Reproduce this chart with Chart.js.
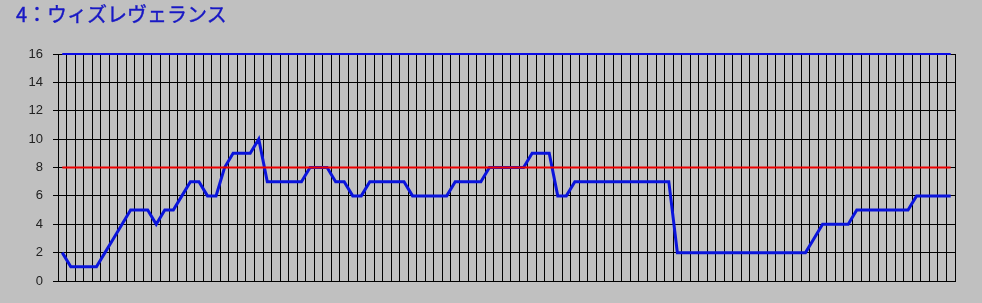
<!DOCTYPE html>
<html>
<head>
<meta charset="utf-8">
<script src="https://cdn.jsdelivr.net/npm/chart.js@4.4.1/dist/chart.umd.min.js"></script>
<style>
  html, body { margin: 0; padding: 0; background: #c0c0c0; }
  #wrap { position: relative; width: 982px; height: 303px; }
  #title {
    position: absolute; left: 16px; top: 4px;
    font-family: "Noto Sans CJK JP", sans-serif; font-size: 20px; line-height: 1;
    color: #1818c4;
    -webkit-text-stroke: 0.4px #1818c4;
  }
  canvas { position: absolute; left: 0; top: 0; }
</style>
</head>
<body>
<div id="wrap">
  <canvas id="chart" width="982" height="303"></canvas>
  <div id="title">4：ウィズレヴェランス</div>
</div>
<script>
// 読み取った値 (105点)
const wizValues = [
  2, 1, 1, 1, 1, 2, 3, 4, 5, 5,
  5, 4, 5, 5, 6, 7, 7, 6, 6, 8,
  9, 9, 9, 10, 7, 7, 7, 7, 7, 8,
  8, 8, 7, 7, 6, 6, 7, 7, 7, 7,
  7, 6, 6, 6, 6, 6, 7, 7, 7, 7,
  8, 8, 8, 8, 8, 9, 9, 9, 6, 6,
  7, 7, 7, 7, 7, 7, 7, 7, 7, 7,
  7, 7, 2, 2, 2, 2, 2, 2, 2, 2,
  2, 2, 2, 2, 2, 2, 2, 2, 3, 4,
  4, 4, 4, 5, 5, 5, 5, 5, 5, 5,
  6, 6, 6, 6, 6
];
const categories = wizValues.map((_, i) => String(i + 1));
const warnLevel = 8;   // 赤線
const maxLevel = 16;   // 上限 (青線)
const yTickValues = [0, 2, 4, 6, 8, 10, 12, 14, 16];

const ctx = document.getElementById("chart").getContext("2d");

const chart = new Chart(ctx, {
    type: "line",
    data: {
        labels: categories,
        datasets: [
            {
                data: categories.map(() => maxLevel),
                borderColor: "#0a0ae6",
                borderWidth: 2,
                pointRadius: 0,
                tension: 0,
                clip: false
            },
            {
                data: categories.map(() => warnLevel),
                borderColor: "#ee0000",
                borderWidth: 2,
                pointRadius: 0,
                tension: 0
            },
            {
                data: wizValues,
                borderColor: "#0a14dc",
                borderWidth: 3,
                pointRadius: 0,
                tension: 0
            }
        ]
    },
    options: {
        responsive: false,
        animation: false,
        events: [],
        layout: { padding: { top: 54, right: 27, bottom: 22, left: 0 } },
        plugins: { legend: { display: false }, tooltip: { enabled: false }, title: { display: false } },
        scales: {
            x: {
                offset: true,
                grid: { offset: true, color: "#000", lineWidth: 1, drawTicks: false },
                border: { color: "#000" },
                ticks: { display: false },
                afterFit: (s) => { s.height = 0; }
            },
            y: {
                min: 0,
                max: 16,
                afterBuildTicks: (s) => { s.ticks = yTickValues.map(v => ({ value: v })); },
                grid: { color: "#000", lineWidth: 1, tickLength: 5, tickColor: "#000" },
                border: { color: "#000" },
                ticks: {
                    color: "#222",
                    padding: 10,
                    font: { family: "'Liberation Sans', Arial, sans-serif", size: 13 }
                },
                afterFit: (s) => { s.width = 58; }
            }
        }
    }
});
</script>
</body>
</html>
